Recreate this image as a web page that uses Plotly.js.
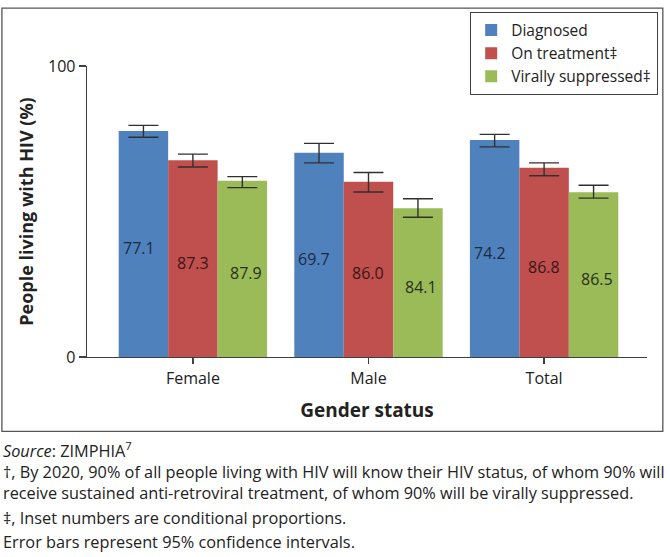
<!DOCTYPE html>
<html>
<head>
<meta charset="utf-8">
<script src="https://cdn.plot.ly/plotly-3.0.1.min.js"></script>
<style>
  html, body { margin: 0; padding: 0; background: #ffffff; }
  #chart { width: 670px; height: 557px; }
</style>
</head>
<body>
<div id="chart"></div>
<script>
// ---- Data ----
const categories = ['Female', 'Male', 'Total'];
const seriesNames = ['Diagnosed', 'On treatment\u2021', 'Virally suppressed\u2021'];

const diagnosed   = [77.7, 70.2, 74.6];
const onTreatment = [67.6, 60.2, 65.0];
const suppressed  = [60.6, 51.1, 56.6];

// 95% confidence interval bounds
const diagnosedLow   = [75.5, 66.7, 72.2];
const diagnosedHigh  = [79.6, 73.4, 76.5];
const onTreatmentLow  = [65.3, 56.7, 62.3];
const onTreatmentHigh = [69.7, 63.4, 66.7];
const suppressedLow   = [58.2, 48.0, 54.6];
const suppressedHigh  = [62.0, 54.4, 59.0];

// Inset labels: conditional proportions
const diagnosedLabels   = ['77.1', '69.7', '74.2'];
const onTreatmentLabels = ['87.3', '86.0', '86.8'];
const suppressedLabels  = ['87.9', '84.1', '86.5'];

const yTickVals = [0, 100];
const yTickText = ['0', '100'];

// ---- Styling ----
const FONT = 'Open Sans, Noto Sans, sans-serif';
const colors = ['#4f81bd', '#c0504d', '#9bbb59'];
const labelColors = ['#1c2b44', '#3a1616', '#26301a'];
const axisColor = '#404040';

const W = 670, H = 557;
const M = { l: 87, r: 17, t: 60, b: 200 };
const plotW = W - M.l - M.r;
const plotH = H - M.t - M.b;
const px2x = px => (px - M.l) / plotW;
const px2y = py => (H - M.b - py) / plotH;

const values = [diagnosed, onTreatment, suppressed];
const lows = [diagnosedLow, onTreatmentLow, suppressedLow];
const highs = [diagnosedHigh, onTreatmentHigh, suppressedHigh];
const labels = [diagnosedLabels, onTreatmentLabels, suppressedLabels];

const traces = values.map((vals, s) => ({
  type: 'bar',
  name: seriesNames[s],
  x: categories,
  y: vals,
  marker: { color: colors[s], line: { width: 0 } },
  error_y: {
    type: 'data',
    symmetric: false,
    array: vals.map((v, i) => highs[s][i] - v),
    arrayminus: vals.map((v, i) => v - lows[s][i]),
    color: '#303030',
    thickness: 1.4,
    width: 15
  },
  hoverinfo: 'x+y+name'
}));

const barPx = 50;
const labelNudge = [-4, 0, 3];
const annotations = [];
values.forEach((vals, s) => {
  vals.forEach((v, i) => {
    annotations.push({
      xref: 'x', yref: 'y',
      x: categories[i], y: v / 2 - 1.4,
      xshift: (s - 1) * barPx + labelNudge[s],
      text: labels[s][i],
      showarrow: false,
      xanchor: 'center', yanchor: 'middle',
      font: { family: FONT, size: 16, color: labelColors[s] }
    });
  });
});

const notes = [
  { text: '<i>Source</i>: ZIMPHIA<sup>7</sup>', y: 452 },
  { text: '\u2020, By 2020, 90% of all people living with HIV will know their HIV status, of whom 90% will<br>receive sustained anti-retroviral treatment, of whom 90% will be virally suppressed.', y: 485.5 },
  { text: '\u2021, Inset numbers are conditional proportions.', y: 521 },
  { text: 'Error bars represent 95% confidence intervals.', y: 546 }
];
notes.forEach(n => {
  annotations.push({
    xref: 'paper', yref: 'paper',
    x: px2x(0), y: px2y(n.y),
    xanchor: 'left', yanchor: 'middle',
    text: n.text, showarrow: false, align: 'left',
    font: { family: FONT, size: 16.3, color: '#222222' }
  });
});

const layout = {
  width: W, height: H,
  margin: M,
  paper_bgcolor: '#ffffff',
  plot_bgcolor: '#ffffff',
  font: { family: FONT, size: 16, color: '#222222' },
  barmode: 'group',
  bargap: 0.155,
  bargroupgap: 0,
  showlegend: true,
  legend: {
    x: px2x(664), xanchor: 'right',
    y: px2y(5), yanchor: 'top',
    bordercolor: axisColor, borderwidth: 1.3,
    bgcolor: '#ffffff',
    font: { family: FONT, size: 15.5, color: '#222222' },
    traceorder: 'normal',
    tracegroupgap: 0
  },
  xaxis: {
    type: 'category',
    range: [-0.603, 2.586],
    showline: true, linecolor: axisColor, linewidth: 1.3,
    ticks: 'outside', ticklen: 6, tickcolor: axisColor, tickwidth: 1.3,
    showgrid: false, zeroline: false,
    tickfont: { family: FONT, size: 16, color: '#222222' },
    title: { text: '<b>Gender status</b>', font: { family: FONT, size: 19, color: '#222222' }, standoff: 16 },
    automargin: false
  },
  yaxis: {
    range: [0, 100],
    tickvals: yTickVals, ticktext: yTickText,
    showline: true, linecolor: axisColor, linewidth: 1.3,
    ticks: 'outside', ticklen: 7, tickcolor: axisColor, tickwidth: 1.3,
    showgrid: false, zeroline: false,
    tickfont: { family: FONT, size: 16, color: '#222222' },
    title: { text: '<b>People living with HIV (%)</b>', font: { family: FONT, size: 18, color: '#222222' }, standoff: 9 },
    automargin: false
  },
  shapes: [{
    type: 'rect', xref: 'paper', yref: 'paper',
    x0: px2x(1), x1: px2x(669), y0: px2y(433), y1: px2y(1),
    line: { color: '#555555', width: 1.3 }, fillcolor: 'rgba(0,0,0,0)', layer: 'below'
  }],
  annotations: annotations
};

Plotly.newPlot('chart', traces, layout, { displayModeBar: false, staticPlot: true });
</script>
</body>
</html>
